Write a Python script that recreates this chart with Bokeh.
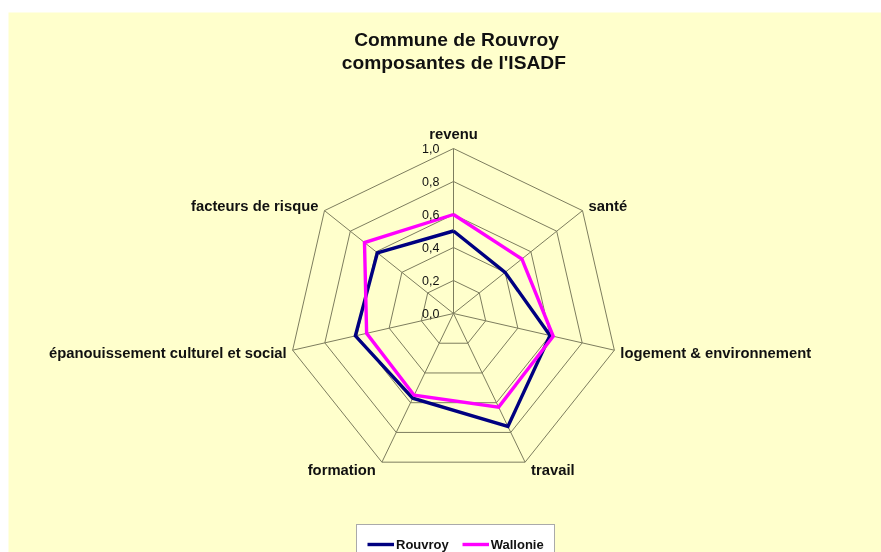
import numpy as np
from bokeh.plotting import figure
from bokeh.models import Range1d, Legend, LegendItem, Label, ColumnDataSource
from bokeh.embed import file_html
from bokeh.resources import INLINE
from bokeh.core.properties import value

# ---------------- data ----------------
categories = ["revenu", "santé", "logement & environnement", "travail",
              "formation", "épanouissement culturel et social", "facteurs de risque"]
rouvroy = [0.50, 0.40, 0.60, 0.76, 0.57, 0.61, 0.59]
wallonie = [0.60, 0.53, 0.62, 0.63, 0.55, 0.54, 0.69]
tick_values = [0.0, 0.2, 0.4, 0.6, 0.8, 1.0]
tick_labels = ["0,0", "0,2", "0,4", "0,6", "0,8", "1,0"]
title_lines = ["Commune de Rouvroy", "composantes  de l'ISADF"]
series_names = ["Rouvroy", "Wallonie"]

# ---------------- layout / style ----------------
W, H = 873, 540
CX, CY = 445, 301          # centre of radar in canvas pixels (from top-left)
R = 165.0                  # pixels per unit of value
BG = "#FFFFCC"
GRID = "#7d7d5e"
FONT = "Liberation Sans"
colors = ["#000080", "#FF00FF"]

p = figure(width=W, height=H, output_backend="svg", toolbar_location=None,
           x_range=Range1d(-CX / R, (W - CX) / R),
           y_range=Range1d(-(H - CY) / R, CY / R),
           min_border=0)
p.styles = {"position": "fixed", "top": "12px", "left": "8px"}
p.axis.visible = False
p.grid.visible = False
p.outline_line_color = None
p.background_fill_color = BG
p.border_fill_color = BG

n = len(categories)
theta = np.pi / 2 - 2 * np.pi * np.arange(n) / n
cs, sn = np.cos(theta), np.sin(theta)

# grid rings
for t in tick_values[1:]:
    xs = list(t * cs) + [t * cs[0]]
    ys = list(t * sn) + [t * sn[0]]
    p.line(xs, ys, line_color=GRID, line_width=1)
# spokes
p.segment(x0=np.zeros(n), y0=np.zeros(n), x1=cs, y1=sn, line_color=GRID, line_width=1)

# series
renderers = []
for vals, col in zip([rouvroy, wallonie], colors):
    v = np.array(vals)
    xs = list(v * cs) + [v[0] * cs[0]]
    ys = list(v * sn) + [v[0] * sn[0]]
    r = p.line(xs, ys, line_color=col, line_width=3.4, line_join="miter")
    renderers.append(r)

# tick labels along first axis
p.text(x=[0.0] * len(tick_values), y=tick_values, text=tick_labels,
       x_offset=-14, y_offset=0, text_align="right", text_baseline="middle",
       text_font=value(FONT), text_font_size="12.5px", text_color="#111111")

# category labels
aligns, xo, yo, bases = [], [], [], []
for c, s in zip(cs, sn):
    if c > 0.1:
        aligns.append("left"); xo.append(6)
    elif c < -0.1:
        aligns.append("right"); xo.append(-6)
    else:
        aligns.append("center"); xo.append(0)
    if s > 0.95:
        bases.append("bottom"); yo.append(-7)
    else:
        bases.append("middle"); yo.append(-s * 7 + (1.5 if s < 0 else 0))
src = ColumnDataSource(dict(x=cs, y=sn, t=categories, a=aligns, xo=xo, yo=yo, b=bases))
p.text(x="x", y="y", text="t", source=src, x_offset="xo", y_offset="yo",
       text_align="a", text_baseline="b",
       text_font=value(FONT), text_font_size="14.8px", text_font_style="bold",
       text_color="#111111")

# title
for i, line in enumerate(title_lines):
    p.add_layout(Label(x=448, y=H - 27 - 23 * i, x_units="screen", y_units="screen",
                       text=line, text_align="center", text_baseline="middle",
                       text_font=FONT, text_font_size="19.2px", text_font_style="bold",
                       text_color="#111111"))

# legend
legend = Legend(items=[LegendItem(label=series_names[i], renderers=[renderers[i]]) for i in range(2)],
                orientation="horizontal", location=(348, -12),
                padding=10, margin=0, spacing=13, glyph_width=27, glyph_height=18,
                label_standoff=2, label_height=18,
                label_text_font=FONT, label_text_font_size="13px", label_text_font_style="bold",
                label_text_color="#111111",
                border_line_color="#555555", border_line_width=1,
                background_fill_color="white", background_fill_alpha=1.0)
p.add_layout(legend, "center")

open("out.html", "w").write(file_html(p, INLINE))
